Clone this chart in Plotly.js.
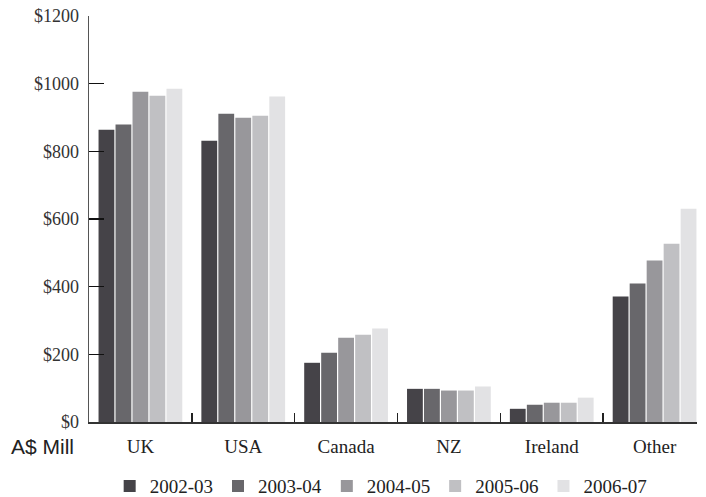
<!DOCTYPE html>
<html>
<head>
<meta charset="utf-8">
<script src="https://cdn.plot.ly/plotly-3.0.1.min.js"></script>
<style>
  html, body { margin: 0; padding: 0; background: #fff; }
  #chart { width: 706px; height: 497px; }
</style>
</head>
<body>
<div id="chart"></div>
<script>
// Export revenue by destination, A$ millions
const regions = ["UK", "USA", "Canada", "NZ", "Ireland", "Other"];
const years = ["2002-03", "2003-04", "2004-05", "2005-06", "2006-07"];
const fy2002 = [864, 831, 175, 98, 39, 371];
const fy2003 = [879, 911, 205, 98, 51, 409];
const fy2004 = [976, 899, 249, 93, 57, 477];
const fy2005 = [964, 905, 258, 93, 57, 527];
const fy2006 = [985, 962, 276, 105, 72, 630];
const yTickVals = [0, 200, 400, 600, 800, 1000, 1200];
const yTickText = ["$0", "$200", "$400", "$600", "$800", "$1000", "$1200"];

const series = [fy2002, fy2003, fy2004, fy2005, fy2006];
const shades = ["#454348", "#68676b", "#98979b", "#c0c0c3", "#e2e2e4"];

const traces = series.map((vals, i) => ({
  type: "bar",
  name: years[i],
  x: regions,
  y: vals,
  marker: { color: shades[i], line: { width: 0 } },
  hoverinfo: "x+y+name"
}));

const serif = "'Liberation Serif', 'Times New Roman', serif";

const layout = {
  width: 706,
  height: 497,
  margin: { l: 89, r: 9, t: 16, b: 75, autoexpand: false },
  paper_bgcolor: "#ffffff",
  plot_bgcolor: "#ffffff",
  barmode: "group",
  bargap: 0.174,
  bargroupgap: 0.07,
  showlegend: true,
  font: { family: serif, size: 18, color: "#222" },
  xaxis: {
    type: "category",
    range: [-0.5, 5.4126],
    showline: true,
    linecolor: "#333",
    linewidth: 2,
    ticks: "inside",
    tickson: "boundaries",
    ticklen: 9,
    tickwidth: 1.5,
    tickcolor: "#222",
    ticklabelstandoff: 6,
    tickfont: { family: serif, size: 19, color: "#222" },
    showgrid: false,
    zeroline: false,
    fixedrange: true
  },
  yaxis: {
    range: [0, 1200],
    tickvals: yTickVals,
    ticktext: yTickText,
    showline: true,
    linecolor: "#555",
    linewidth: 1.5,
    ticks: "inside",
    ticklen: 15,
    tickwidth: 1.5,
    tickcolor: "#111",
    ticklabelstandoff: 5,
    tickfont: { family: serif, size: 18, color: "#333" },
    showgrid: false,
    zeroline: false,
    fixedrange: true
  },
  legend: {
    orientation: "h",
    x: 0.034,
    xanchor: "left",
    y: -0.158,
    yanchor: "middle",
    font: { family: serif, size: 19, color: "#222" },
    bgcolor: "rgba(0,0,0,0)",
    traceorder: "normal",
    itemclick: false,
    itemdoubleclick: false
  },
  annotations: [{
    text: "A$ Mill",
    xref: "paper",
    yref: "paper",
    x: -0.131,
    xanchor: "left",
    y: -0.061,
    yanchor: "middle",
    showarrow: false,
    font: { family: "'Liberation Sans', Arial, sans-serif", size: 21, color: "#222" }
  }]
};

Plotly.newPlot("chart", traces, layout, { displayModeBar: false, staticPlot: true });
</script>
</body>
</html>
